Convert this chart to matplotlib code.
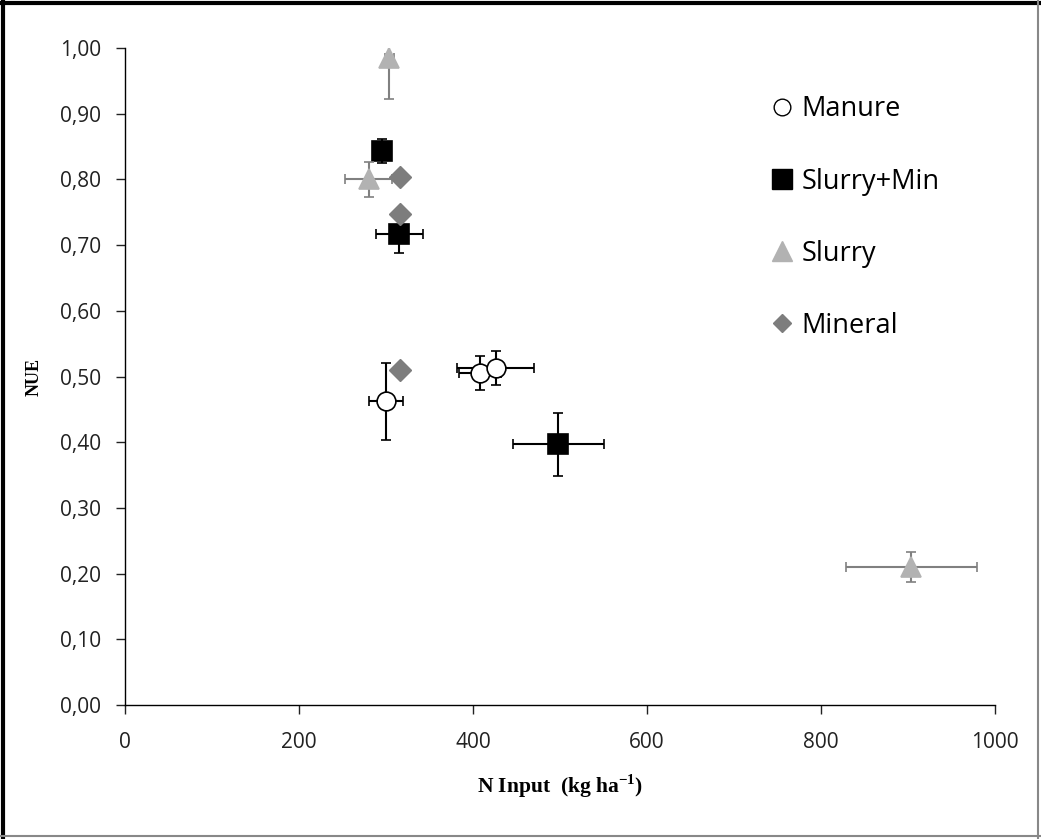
import matplotlib
matplotlib.use('Agg')
import matplotlib.pyplot as plt
from matplotlib.lines import Line2D

# N input (kg/ha) vs NUE, mean +- error per treatment
manure_x    = [300, 408, 426]
manure_y    = [0.462, 0.505, 0.513]
manure_xerr = [20, 24, 44]
manure_yerr = [0.058, 0.026, 0.026]

slmin_x    = [295, 315, 498]
slmin_y    = [0.843, 0.717, 0.397]
slmin_xerr = [8, 27, 52]
slmin_yerr = [0.018, 0.029, 0.048]

slurry_x    = [304, 280, 904]
slurry_y    = [0.985, 0.800, 0.210]
slurry_xerr = [5, 27, 75]
slurry_yerr = [0.062, 0.027, 0.023]

mineral_x = [316, 316, 316]
mineral_y = [0.803, 0.748, 0.510]

xticks  = [0, 200, 400, 600, 800, 1000]
yticks  = [0.0, 0.1, 0.2, 0.3, 0.4, 0.5, 0.6, 0.7, 0.8, 0.9, 1.0]
ylabels = ['0,00', '0,10', '0,20', '0,30', '0,40', '0,50', '0,60', '0,70', '0,80', '0,90', '1,00']

tri_col = '#b2b2b2'
dia_col = '#7d7d7d'

fig = plt.figure(figsize=(10.41, 8.39), dpi=100)
ax = fig.add_axes([125/1041, 1 - 705/839, (995-125)/1041, (705-48)/839])


def series(x, y, xerr, yerr, fmt, ms, fc, ec, bar_col, cap_col, label, z):
  p, caps, bars = ax.errorbar(x, y, xerr=xerr, yerr=yerr, fmt=fmt, ms=ms, mfc=fc, mec=ec,
                              mew=1.2, ecolor=bar_col, elinewidth=1.5, capsize=3.5, capthick=1.5,
                              label=label, zorder=z)
  for c in caps:
    c.set_color(cap_col)
    c.set_zorder(z)
  for b in bars:
    b.set_zorder(z)
  p.set_zorder(z + 0.5)
  return p


series(manure_x, manure_y, manure_xerr, manure_yerr, 'o', 13.5, 'white', 'black', 'black', 'black', 'Manure', 3)
series(slmin_x, slmin_y, slmin_xerr, slmin_yerr, 's', 15, 'black', 'black', 'black', 'black', 'Slurry+Min', 4)
series(slurry_x, slurry_y, slurry_xerr, slurry_yerr, '^', 15, tri_col, tri_col, '#808080', '#333333', 'Slurry', 5)
ax.plot(mineral_x, mineral_y, 'D', ms=11, mfc=dia_col, mec=dia_col, label='Mineral', zorder=6, linestyle='none')

ax.set_xlim(0, 1000)
ax.set_ylim(0, 1.0)
ax.set_xticks(xticks)
ax.set_xticklabels([str(t) for t in xticks])
ax.set_yticks(yticks)
ax.set_yticklabels(ylabels)
ax.tick_params(direction='out', length=6.5, width=1, labelsize=15, colors='#222222')
for lab in ax.get_xticklabels() + ax.get_yticklabels():
  lab.set_fontfamily('Open Sans')
ax.tick_params(axis='x', pad=13)
ax.tick_params(axis='y', pad=11)
ax.spines['top'].set_visible(False)
ax.spines['right'].set_visible(False)
ax.spines['left'].set_linewidth(1)
ax.spines['bottom'].set_linewidth(1)

ax.set_xlabel('N Input  (kg ha$^{\\mathregular{-1}}$)', fontfamily='Liberation Serif',
              fontweight='bold', fontsize=15.5, labelpad=14)
ax.set_ylabel('NUE', fontfamily='Liberation Serif', fontweight='bold', fontsize=13, labelpad=12)

handles = [
  Line2D([], [], marker='o', ls='none', ms=12, mfc='white', mec='black', mew=1),
  Line2D([], [], marker='s', ls='none', ms=14, mfc='black', mec='black'),
  Line2D([], [], marker='^', ls='none', ms=14, mfc=tri_col, mec=tri_col),
  Line2D([], [], marker='D', ls='none', ms=9, mfc=dia_col, mec=dia_col),
]
ax.legend(handles, ['Manure', 'Slurry+Min', 'Slurry', 'Mineral'], loc='upper left',
          bbox_to_anchor=(0.715, 0.965), frameon=False, prop={'family': 'Open Sans', 'size': 19.5},
          handlelength=0.8, handletextpad=0.3, labelspacing=1.63)

# outer frame
fig.add_artist(Line2D([0.003, 0.003], [0.0, 0.998], color='black', lw=3, transform=fig.transFigure))
fig.add_artist(Line2D([0.0, 1.0], [0.997, 0.997], color='black', lw=3, transform=fig.transFigure))
fig.add_artist(Line2D([0.997, 0.997], [0.0, 1.0], color='#888888', lw=1.5, transform=fig.transFigure))
fig.add_artist(Line2D([0.0, 1.0], [0.004, 0.004], color='#888888', lw=1.5, transform=fig.transFigure))

fig.savefig('out.png', dpi=100)
